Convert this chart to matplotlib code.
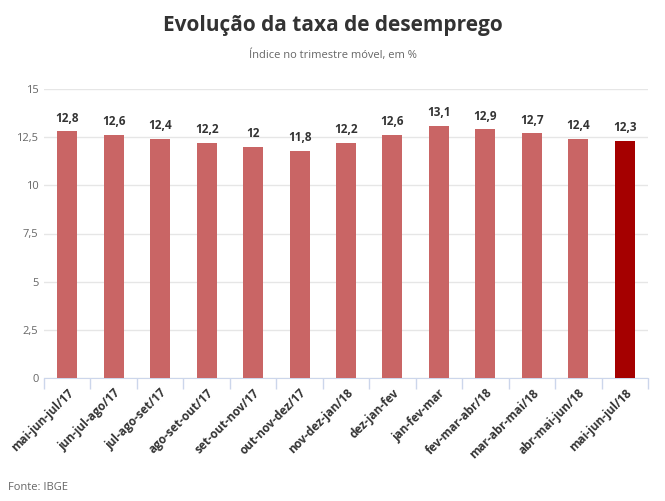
import matplotlib
matplotlib.use('Agg')
import numpy as np
from matplotlib import pyplot as plt

plt.rcParams['font.family'] = ['Open Sans', 'DejaVu Sans']

categories = ['mai-jun-jul/17', 'jun-jul-ago/17', 'jul-ago-set/17', 'ago-set-out/17',
              'set-out-nov/17', 'out-nov-dez/17', 'nov-dez-jan/18', 'dez-jan-fev',
              'jan-fev-mar', 'fev-mar-abr/18', 'mar-abr-mai/18', 'abr-mai-jun/18',
              'mai-jun-jul/18']
values = [12.8, 12.6, 12.4, 12.2, 12.0, 11.8, 12.2, 12.6, 13.1, 12.9, 12.7, 12.4, 12.3]
yticks = [0, 2.5, 5, 7.5, 10, 12.5, 15]

colors = ['#c96565'] * (len(values) - 1) + ['#a50000']

fig = plt.figure(figsize=(6.65, 5.01), dpi=100)
ax = fig.add_axes([44 / 665, 1 - 378 / 501, 604 / 665, 289 / 501])

x = np.arange(len(values))
ax.bar(x, values, width=0.43, color=colors, zorder=3)
for xi, v in zip(x, values):
    lbl = ('%g' % v).replace('.', ',')
    ax.text(xi, v + 0.35, lbl, ha='center', va='bottom', fontsize=8.5,
            fontweight='bold', color='#333333')

ax.set_xlim(-0.5, len(values) - 0.5)
ax.set_ylim(0, 15)
ax.set_yticks(yticks)
ax.set_yticklabels([('%g' % t).replace('.', ',') for t in yticks], fontsize=8, color='#666666')
ax.yaxis.grid(True, color='#e6e6e6', linewidth=1, zorder=0)
ax.tick_params(axis='y', length=0, pad=4)

ax.set_xticks(x)
ax.set_xticklabels(categories, rotation=45, ha='right', rotation_mode='anchor',
                   fontsize=8.5, fontweight='bold', color='#333333')
ax.tick_params(axis='x', length=0, pad=6)
ax.set_xticks(np.arange(-0.5, len(values), 1), minor=True)
ax.tick_params(axis='x', which='minor', length=8, color='#ccd6eb', width=1)

for s in ['top', 'right', 'left']:
    ax.spines[s].set_visible(False)
ax.spines['bottom'].set_color('#ccd6eb')

fig.text(0.5, 1 - 25 / 501, 'Evolução da taxa de desemprego', ha='center', va='center',
         fontsize=15, fontweight='bold', color='#333333')
fig.text(0.5, 1 - 55 / 501, 'Índice no trimestre móvel, em %', ha='center', va='center',
         fontsize=8, color='#666666')
fig.text(8 / 665, 1 - 487 / 501, 'Fonte: IBGE', ha='left', va='center',
         fontsize=8, color='#666666')

fig.savefig('out.png', dpi=100)
